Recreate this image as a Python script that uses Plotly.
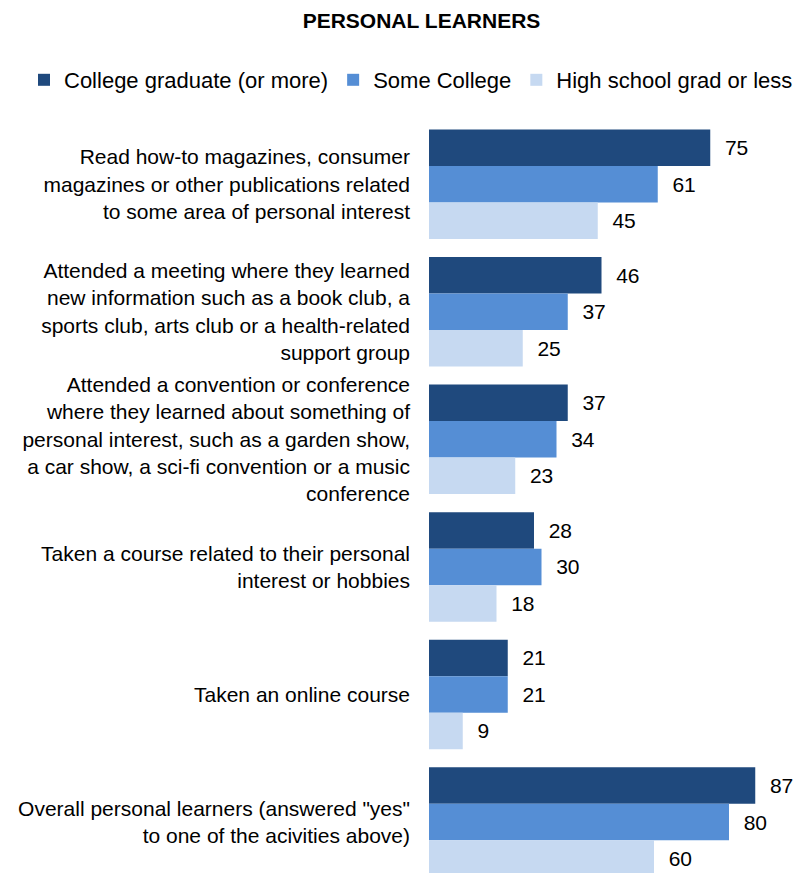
import plotly.graph_objects as go

# Survey activities (y categories, top to bottom)
categories = [
    "Read how-to magazines, consumer<br>magazines or other publications related<br>to some area of personal interest",
    "Attended a meeting where they learned<br>new information such as a book club, a<br>sports club, arts club or a health-related<br>support group",
    "Attended a convention or conference<br>where they learned about something of<br>personal interest, such as a garden show,<br>a car show, a sci-fi convention or a music<br>conference",
    "Taken a course related to their personal<br>interest or hobbies",
    "Taken an online course",
    "Overall personal learners (answered \"yes\"<br>to one of the acivities above)",
]

# Percent answering "yes", by education level
series_names = ["College graduate (or more)", "Some College", "High school grad or less"]
college_grad = [75, 46, 37, 28, 21, 87]
some_college = [61, 37, 34, 30, 21, 80]
hs_or_less = [45, 25, 23, 18, 9, 60]

colors = ["#1F497D", "#558ED5", "#C6D9F1"]
FONT = "Liberation Sans, Arial, sans-serif"

# Plot area geometry (pixels)
PLOT_L, PLOT_T, W, H = 429, 110, 805, 873
PLOT_W, PLOT_H = W - PLOT_L, H - PLOT_T

fig = go.Figure()
for name, vals, col in zip(series_names, [college_grad, some_college, hs_or_less], colors):
    fig.add_trace(go.Bar(
        name=name,
        y=categories,
        x=vals,
        orientation="h",
        marker=dict(color=col, line=dict(width=0)),
        text=vals,
        texttemplate="\u00a0\u00a0%{x}",
        textposition="outside",
        constraintext="none",
        textfont=dict(size=21, color="#000000", family=FONT),
        hoverinfo="skip",
    ))

fig.update_layout(
    width=W,
    height=H,
    margin=dict(l=PLOT_L, r=0, t=PLOT_T, b=0, autoexpand=False),
    paper_bgcolor="white",
    plot_bgcolor="white",
    barmode="group",
    bargap=0.1416,
    bargroupgap=0,
    font=dict(family=FONT, color="#000000"),
    title=dict(
        text="<b>PERSONAL LEARNERS</b>",
        x=421.5 / W,
        xanchor="center",
        xref="container",
        y=1 - 21 / H,
        yanchor="middle",
        yref="container",
        font=dict(size=21, color="#000000", family=FONT),
    ),
    legend=dict(
        orientation="h",
        x=(24 - PLOT_L) / PLOT_W,
        xanchor="left",
        xref="paper",
        y=(H - 80) / PLOT_H,
        yanchor="middle",
        yref="paper",
        font=dict(size=22, color="#000000", family=FONT),
        itemwidth=30,
        tracegroupgap=0,
        traceorder="normal",
        bgcolor="rgba(0,0,0,0)",
    ),
    xaxis=dict(
        range=[0, PLOT_W / 3.75],
        visible=False,
        fixedrange=True,
    ),
    yaxis=dict(
        type="category",
        range=[5.3994, -0.582],
        showgrid=False,
        zeroline=False,
        showline=False,
        ticks="",
        ticklabelstandoff=18,
        tickfont=dict(size=21, color="#000000", family=FONT),
        fixedrange=True,
    ),
)

fig.write_html("out.html")
